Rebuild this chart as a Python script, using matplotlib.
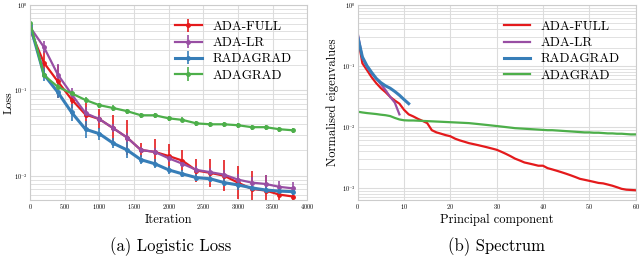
import numpy as np
import matplotlib
matplotlib.use('Agg')
import matplotlib.pyplot as plt

plt.rcParams['font.family'] = ['cmr10', 'DejaVu Serif']
plt.rcParams['mathtext.fontset'] = 'cm'
plt.rcParams['axes.formatter.use_mathtext'] = True

# ---- (a) Logistic loss ----
iters = [0, 200, 400, 600, 800, 1000, 1200, 1400, 1600, 1800, 2000,
         2200, 2400, 2600, 2800, 3000, 3200, 3400, 3600, 3800]
loss_full = [0.51, 0.21, 0.127, 0.078, 0.052, 0.046, 0.036, 0.028, 0.020, 0.019,
             0.017, 0.015, 0.0115, 0.0108, 0.0100, 0.0083, 0.0070, 0.0067, 0.0060, 0.0057]
loss_lr = [0.55, 0.32, 0.153, 0.090, 0.054, 0.046, 0.036, 0.028, 0.020, 0.019,
           0.016, 0.0138, 0.0117, 0.0110, 0.0103, 0.0090, 0.0083, 0.0080, 0.0074, 0.0071]
loss_rada = [0.58, 0.153, 0.095, 0.055, 0.035, 0.031, 0.024, 0.020, 0.0154, 0.0138,
             0.0117, 0.0105, 0.0095, 0.0092, 0.0083, 0.0078, 0.0072, 0.0068, 0.0066, 0.0065]
loss_ada = [0.62, 0.15, 0.11, 0.092, 0.077, 0.067, 0.062, 0.057, 0.051, 0.051,
            0.047, 0.045, 0.041, 0.040, 0.040, 0.039, 0.037, 0.037, 0.035, 0.034]
# error half-widths in decades
err_full = [0.06, 0.14, 0.19, 0.10, 0.14, 0.12, 0.15, 0.20, 0.08, 0.15,
            0.14, 0.12, 0.13, 0.16, 0.18, 0.19, 0.21, 0.18, 0.10, 0.07]
err_lr = [0.04, 0.07, 0.12, 0.07, 0.07, 0.05, 0.05, 0.05, 0.04, 0.04,
          0.04, 0.04, 0.04, 0.05, 0.05, 0.06, 0.07, 0.10, 0.07, 0.07]
err_rada = [0.04, 0.08, 0.07, 0.10, 0.10, 0.07, 0.06, 0.09, 0.05, 0.05,
            0.05, 0.04, 0.04, 0.04, 0.04, 0.06, 0.04, 0.04, 0.04, 0.04]
err_ada = [0.04, 0.03, 0.03, 0.03, 0.03, 0.03, 0.03, 0.03, 0.03, 0.03,
           0.03, 0.03, 0.03, 0.03, 0.03, 0.03, 0.03, 0.03, 0.03, 0.03]

# ---- (b) Spectrum ----
comp_full = list(range(61))
eig_full = [0.30, 0.11, 0.085, 0.065, 0.052, 0.043, 0.037, 0.031, 0.027, 0.024,
            0.019, 0.016, 0.0148, 0.0135, 0.0125, 0.0115, 0.0088, 0.0081, 0.0077, 0.0073,
            0.0070, 0.0064, 0.0060, 0.0057, 0.0054, 0.0052, 0.0050, 0.0048, 0.0046, 0.0044,
            0.0042, 0.0039, 0.0036, 0.0033, 0.0030, 0.0028, 0.0026, 0.0025, 0.0024, 0.0023,
            0.0023, 0.0021, 0.0020, 0.0019, 0.0018, 0.0017, 0.0016, 0.0015, 0.0014, 0.00135,
            0.0013, 0.00125, 0.0012, 0.00118, 0.00113, 0.00108, 0.00102, 0.00096, 0.00093, 0.00092,
            0.00091]
comp_lr = [0, 1, 2, 3, 4, 5, 6, 7, 8, 9]
eig_lr = [0.34, 0.135, 0.095, 0.075, 0.062, 0.050, 0.040, 0.031, 0.025, 0.016]
comp_rada = [0, 1, 2, 3, 4, 5, 6, 7, 8, 9, 10, 11]
eig_rada = [0.30, 0.14, 0.10, 0.078, 0.062, 0.053, 0.047, 0.043, 0.038, 0.033, 0.028, 0.024]
comp_ada = list(range(61))
eig_ada = [0.0177, 0.0172, 0.0168, 0.0165, 0.0162, 0.0158, 0.0155, 0.0150, 0.0140, 0.0132,
           0.0128, 0.0127, 0.0127, 0.0126, 0.0125, 0.0124, 0.0123, 0.0122, 0.0121, 0.0120,
           0.0119, 0.0118, 0.0117, 0.0116, 0.0115, 0.0113, 0.0111, 0.0109, 0.0107, 0.0105,
           0.0103, 0.0101, 0.0099, 0.0097, 0.0095, 0.0094, 0.0093, 0.0092, 0.0091, 0.0090,
           0.0089, 0.0088, 0.0088, 0.0087, 0.0086, 0.0085, 0.0084, 0.0083, 0.0082, 0.0081,
           0.0081, 0.0080, 0.0080, 0.0079, 0.0078, 0.0078, 0.0077, 0.0077, 0.0076, 0.0075,
           0.0075]

labels = ['ADA-FULL', 'ADA-LR', 'RADAGRAD', 'ADAGRAD']
colors = ['#e41a1c', '#984ea3', '#377eb8', '#4daf4a']
widths = [1.6, 1.6, 2.2, 1.6]


def style_axes(ax):
    ax.set_facecolor('white')
    ax.grid(True, which='major', color='#dcdcdc', linewidth=0.8)
    ax.grid(True, which='minor', axis='y', color='#dcdcdc', linewidth=0.6)
    ax.set_axisbelow(True)
    for s in ax.spines.values():
        s.set_color('#cccccc')
        s.set_linewidth(0.8)
    ax.tick_params(which='both', length=0, labelsize=4.5, pad=1.5)


fig = plt.figure(figsize=(6.4, 2.59), dpi=100)
ax1 = fig.add_axes([0.047, 0.228, 0.433, 0.753])
ax2 = fig.add_axes([0.559, 0.228, 0.434, 0.753])

# left panel
series = [loss_full, loss_lr, loss_rada, loss_ada]
errs = [err_full, err_lr, err_rada, err_ada]
for vals, e, lab, c, w in zip(series, errs, labels, colors, widths):
    v = np.array(vals)
    e = np.array(e)
    lo = v - v * 10 ** (-e)
    hi = v * 10 ** e - v
    ax1.errorbar(iters, v, yerr=[lo, hi], color=c, lw=w, marker='o', ms=2.5,
                 elinewidth=1.2, capsize=0, label=lab)
ax1.set_yscale('log')
ax1.set_xlim(0, 4000)
ax1.set_ylim(0.0052, 1.0)
ax1.set_xticks(range(0, 4001, 500))
ax1.set_xlabel('Iteration', fontsize=9, labelpad=2)
ax1.set_ylabel('Loss', fontsize=8.5)
ax1.yaxis.set_label_coords(-0.058, 0.5)
style_axes(ax1)
ax1.legend(loc='upper right', frameon=False, fontsize=9.5, handlelength=2.0,
           labelspacing=0.3, borderaxespad=0.8)

# right panel
comps = [comp_full, comp_lr, comp_rada, comp_ada]
eigs = [eig_full, eig_lr, eig_rada, eig_ada]
for x, vals, lab, c, w in zip(comps, eigs, labels, colors, widths):
    ax2.plot(x, vals, color=c, lw=w, label=lab)
ax2.set_yscale('log')
ax2.set_xlim(0, 60)
ax2.set_ylim(10 ** -3.2, 1.0)
ax2.set_xticks(range(0, 61, 10))
ax2.set_xlabel('Principal component', fontsize=9, labelpad=2)
ax2.set_ylabel('Normalised eigenvalues', fontsize=9, labelpad=2)
style_axes(ax2)
ax2.legend(loc='upper right', frameon=False, fontsize=9.5, handlelength=2.0,
           labelspacing=0.3, borderaxespad=0.8)

fig.text(0.266, 0.03, '(a) Logistic Loss', ha='center', fontsize=12)
fig.text(0.776, 0.03, '(b) Spectrum', ha='center', fontsize=12)

fig.savefig('out.png', dpi=100)
